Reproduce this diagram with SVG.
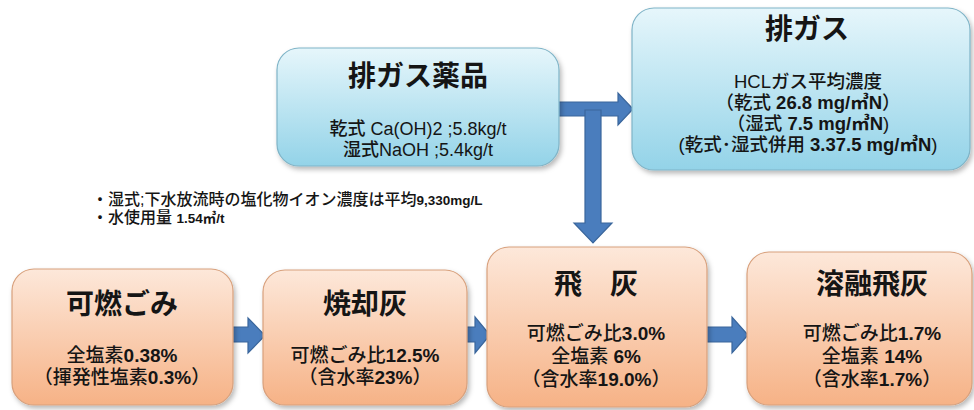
<svg xmlns="http://www.w3.org/2000/svg" width="974" height="410" viewBox="0 0 974 410">
<defs>
<linearGradient id="gBlue" x1="0" y1="0" x2="0" y2="1">
<stop offset="0" stop-color="#e6f6fb"/>
<stop offset="1" stop-color="#93d3e8"/>
</linearGradient>
<linearGradient id="gOrange" x1="0" y1="0" x2="0" y2="1">
<stop offset="0" stop-color="#fde8da"/>
<stop offset="1" stop-color="#f6b286"/>
</linearGradient>
<filter id="sh" x="-10%" y="-10%" width="125%" height="130%">
<feDropShadow dx="2" dy="3" stdDeviation="2.5" flood-color="#000" flood-opacity="0.28"/>
</filter>
</defs>
<style>
.blue{fill:url(#gBlue);stroke:#7fb4c7;stroke-width:1.2;filter:url(#sh)}
.orange{fill:url(#gOrange);stroke:#d8a07c;stroke-width:1.2;filter:url(#sh)}
text{font-family:"Liberation Sans","Noto Sans CJK JP",sans-serif;fill:#151515;text-anchor:middle}
.t{font-size:28px;font-weight:700}
.b{font-size:18px;font-weight:500}
.g{font-size:18.5px;font-weight:500}
.bb{font-size:19px;font-weight:500}
.n{font-size:16px;font-weight:500;text-anchor:start}
.num{font-weight:700}
.arr{fill:#4a7dbd;stroke:#3a669c;stroke-width:1.2}
</style>
<rect width="974" height="410" fill="#ffffff"/>
<g id="connectors">
<path class="arr" d="M558,102 H618 V93 L633,109 L618,125 V116 H558 Z"/>
<path class="arr" d="M585,110 H601 V223 H612 L593,243 L574,223 H585 Z"/>
<path class="arr" d="M231,327 H248 V318 L265,335.5 L248,353 V342 H231 Z"/>
<path class="arr" d="M464,327 H475 V317 L490,335 L475,353 V342 H464 Z"/>
<path class="arr" d="M703,327 H732 V317 L748,335 L732,353 V342 H703 Z"/>
</g>
<g id="node-chemicals">
<rect class="blue" x="277" y="48" width="282" height="118" rx="22"/>
<text class="t" x="418" y="86">排ガス薬品</text>
<text class="b" x="418" y="135">乾式 Ca(OH)2 ;5.8kg/t</text>
<text class="b" x="418" y="156">湿式NaOH ;5.4kg/t</text>
</g>
<g id="node-exhaust">
<rect class="blue" x="632" y="8" width="338" height="162" rx="22"/>
<text class="t" x="807" y="39">排ガス</text>
<text class="g" x="808" y="88">HCLガス平均濃度</text>
<text class="g" x="808" y="109">（乾式 <tspan class="num">26.8 mg/㎥N</tspan>）</text>
<text class="g" x="808" y="130">（湿式 <tspan class="num">7.5 mg/㎥N</tspan>)</text>
<text class="g" x="808" y="151">(乾式･湿式併用 <tspan class="num">3.37.5 mg/㎥N</tspan>)</text>
</g>
<g id="notes">
<text class="n" x="92" y="205">・湿式;下水放流時の塩化物イオン濃度は平均<tspan class="num" font-size="13.5">9,330mg/L</tspan></text>
<text class="n" x="92" y="223">・水使用量 <tspan class="num" font-size="13.5">1.54㎥/t</tspan></text>
</g>
<g id="node-waste">
<rect class="orange" x="12" y="269" width="221" height="136" rx="22"/>
<text class="t" x="122" y="314">可燃ごみ</text>
<text class="bb" x="122" y="362">全塩素<tspan class="num">0.38%</tspan></text>
<text class="bb" x="122" y="384">（揮発性塩素<tspan class="num">0.3%</tspan>）</text>
</g>
<g id="node-bottom-ash">
<rect class="orange" x="263" y="270" width="204" height="135" rx="22"/>
<text class="t" x="365" y="314">焼却灰</text>
<text class="bb" x="365" y="362">可燃ごみ比<tspan class="num">12.5%</tspan></text>
<text class="bb" x="365" y="384">（含水率<tspan class="num">23%</tspan>）</text>
</g>
<g id="node-fly-ash">
<rect class="orange" x="487" y="247" width="220" height="160" rx="22"/>
<text class="t" x="596" y="294">飛　灰</text>
<text class="bb" x="596" y="340">可燃ごみ比<tspan class="num">3.0%</tspan></text>
<text class="bb" x="596" y="363">全塩素 <tspan class="num">6%</tspan></text>
<text class="bb" x="596" y="386">（含水率<tspan class="num">19.0%</tspan>）</text>
</g>
<g id="node-molten-fly-ash">
<rect class="orange" x="747" y="252" width="225" height="153" rx="22"/>
<text class="t" x="872" y="294">溶融飛灰</text>
<text class="bb" x="872" y="340">可燃ごみ比<tspan class="num">1.7%</tspan></text>
<text class="bb" x="872" y="363">全塩素 <tspan class="num">14%</tspan></text>
<text class="bb" x="872" y="386">（含水率<tspan class="num">1.7%</tspan>）</text>
</g>
</svg>
